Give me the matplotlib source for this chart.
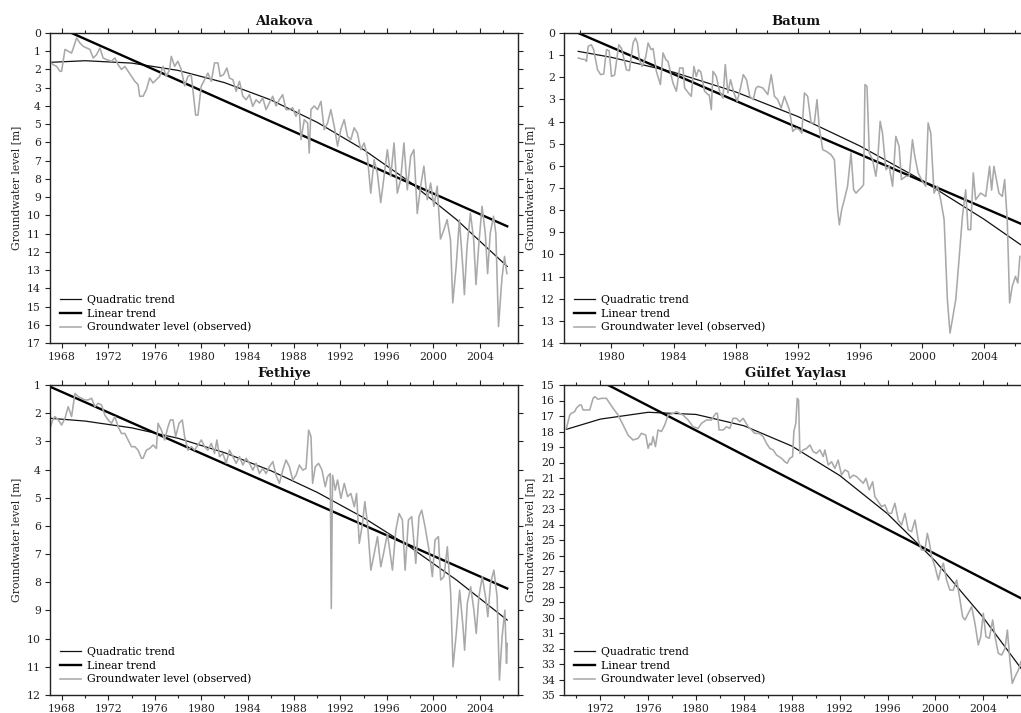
import matplotlib
matplotlib.use("Agg")
import matplotlib.pyplot as plt
from matplotlib.ticker import MultipleLocator

plt.rcParams['font.family'] = ['DejaVu Serif']
plt.rcParams['font.size'] = 7.5

# ---------------- Alakova ----------------
alakova_obs_year = [1966.97, 1967.25, 1967.54, 1967.83, 1967.97, 1968.26, 1968.54, 1968.83, 1969.03, 1969.26,
    1969.55, 1969.83, 1970.12, 1970.41, 1970.69, 1970.98, 1971.27, 1971.55, 1971.84, 1972.27,
    1972.56, 1972.84, 1973.13, 1973.42, 1973.70, 1973.99, 1974.28, 1974.56, 1974.70, 1974.99,
    1975.28, 1975.56, 1975.85, 1976.14, 1976.42, 1976.71, 1976.99, 1977.28, 1977.42, 1977.71,
    1977.99, 1978.28, 1978.57, 1978.86, 1979.14, 1979.52, 1979.72, 1980.00, 1980.29, 1980.58,
    1980.87, 1981.15, 1981.44, 1981.64, 1981.93, 1982.21, 1982.44, 1982.73, 1983.01, 1983.30,
    1983.59, 1983.87, 1984.16, 1984.44, 1984.73, 1985.02, 1985.30, 1985.59, 1985.87, 1986.16,
    1986.45, 1986.73, 1987.02, 1987.30, 1987.59, 1987.88, 1988.16, 1988.45, 1988.60, 1988.88,
    1989.17, 1989.31, 1989.46, 1989.74, 1990.03, 1990.32, 1990.60, 1990.89, 1991.17, 1991.46,
    1991.75, 1992.03, 1992.32, 1992.61, 1992.89, 1993.18, 1993.46, 1993.75, 1994.04, 1994.32,
    1994.61, 1994.90, 1995.18, 1995.47, 1995.76, 1996.04, 1996.33, 1996.62, 1996.90, 1997.19,
    1997.47, 1997.76, 1998.05, 1998.33, 1998.62, 1998.91, 1999.19, 1999.48, 1999.77, 2000.05,
    2000.34, 2000.62, 2000.91, 2001.19, 2001.48, 2001.68, 2001.97, 2002.25, 2002.54, 2002.68,
    2002.91, 2003.20, 2003.48, 2003.68, 2003.91, 2004.20, 2004.48, 2004.68, 2004.91, 2005.19,
    2005.39, 2005.62, 2005.91, 2006.14, 2006.34]
alakova_obs_level = [1.55, 1.74, 1.83, 2.10, 2.10, 0.90, 1.00, 1.10, 0.73, 0.27,
    0.55, 0.73, 0.82, 0.90, 1.37, 1.19, 0.82, 1.37, 1.46, 1.55,
    1.37, 1.74, 2.00, 1.83, 2.10, 2.38, 2.65, 2.83, 3.47, 3.47,
    3.10, 2.47, 2.74, 2.56, 2.38, 1.83, 2.38, 2.00, 1.28, 1.83,
    1.55, 2.00, 2.90, 2.38, 2.28, 4.50, 4.50, 2.92, 2.56, 2.20,
    2.65, 1.64, 1.64, 2.38, 2.28, 1.92, 2.47, 2.56, 3.20, 2.65,
    3.47, 3.66, 3.38, 4.02, 3.66, 3.84, 3.56, 4.20, 3.84, 3.47,
    4.00, 3.66, 3.38, 4.20, 4.20, 4.10, 4.57, 4.20, 5.85, 4.75,
    4.94, 6.58, 4.20, 4.00, 4.20, 3.75, 5.30, 4.94, 4.20, 5.10,
    6.20, 5.30, 4.75, 5.67, 5.85, 5.20, 5.48, 6.40, 6.03, 6.76,
    8.78, 6.95, 7.68, 9.30, 7.86, 6.40, 7.86, 6.03, 8.78, 8.04,
    6.03, 8.60, 6.76, 6.40, 9.90, 8.40, 7.30, 9.14, 8.23, 9.50,
    8.40, 11.30, 10.80, 10.24, 11.33, 14.80, 12.80, 10.24, 12.80, 14.35,
    11.70, 9.87, 11.33, 13.80, 11.70, 9.50, 10.97, 13.20, 10.97, 10.05,
    10.97, 16.10, 13.50, 12.25, 13.20]
alakova_lin_year = [1968.83, 2006.37]
alakova_lin_level = [0.0, 10.6]
alakova_quad_year = [1966.97, 1970, 1974, 1978, 1982, 1986, 1990, 1994, 1998, 2002, 2006.37]
alakova_quad_level = [1.61, 1.52, 1.65, 2.05, 2.72, 3.67, 4.90, 6.40, 8.18, 10.23, 12.8]

# ---------------- Batum ----------------
batum_obs_year = [1977.86, 1978.07, 1978.29, 1978.39, 1978.50, 1978.70, 1978.85, 1979.10, 1979.30, 1979.50,
    1979.68, 1979.85, 1980.00, 1980.20, 1980.47, 1980.65, 1980.96, 1981.15, 1981.39, 1981.54,
    1981.67, 1981.80, 1981.97, 1982.20, 1982.36, 1982.55, 1982.68, 1982.89, 1983.15, 1983.32,
    1983.50, 1983.64, 1983.96, 1984.18, 1984.39, 1984.61, 1984.71, 1984.95, 1985.14, 1985.31,
    1985.46, 1985.60, 1985.75, 1986.00, 1986.21, 1986.30, 1986.43, 1986.54, 1986.75, 1986.96,
    1987.18, 1987.33, 1987.50, 1987.67, 1987.89, 1988.10, 1988.31, 1988.49, 1988.70, 1988.91,
    1989.13, 1989.30, 1989.43, 1989.75, 1990.07, 1990.29, 1990.50, 1990.71, 1990.93, 1991.14,
    1991.46, 1991.68, 1991.90, 1992.11, 1992.26, 1992.43, 1992.64, 1992.86, 1993.07, 1993.24,
    1993.39, 1993.61, 1993.85, 1994.14, 1994.36, 1994.57, 1994.68, 1994.83, 1995.00, 1995.21,
    1995.43, 1995.60, 1995.75, 1996.07, 1996.24, 1996.33, 1996.46, 1996.61, 1996.82, 1997.03,
    1997.14, 1997.31, 1997.46, 1997.68, 1997.89, 1998.11, 1998.32, 1998.53, 1998.68, 1998.96,
    1999.18, 1999.39, 1999.54, 1999.76, 2000.03, 2000.25, 2000.40, 2000.57, 2000.78, 2001.00,
    2001.21, 2001.43, 2001.64, 2001.81, 2001.96, 2002.18, 2002.39, 2002.61, 2002.82, 2002.97,
    2003.14, 2003.31, 2003.46, 2003.78, 2004.11, 2004.36, 2004.49, 2004.64, 2004.96, 2005.18,
    2005.33, 2005.50, 2005.65, 2005.82, 2006.03, 2006.18, 2006.31]
batum_obs_level = [1.13, 1.17, 1.20, 1.28, 0.60, 0.53, 0.75, 1.66, 1.88, 1.85,
    0.75, 0.80, 1.96, 1.90, 0.53, 0.70, 1.66, 1.70, 0.45, 0.23,
    0.45, 1.20, 1.51, 1.10, 0.45, 0.75, 0.70, 1.73, 2.33, 0.90,
    1.20, 1.28, 2.26, 2.63, 1.58, 1.58, 2.48, 2.70, 2.86, 1.51,
    1.96, 1.66, 1.75, 2.63, 2.78, 2.80, 3.46, 1.73, 1.96, 2.63,
    2.94, 1.43, 2.71, 2.11, 2.71, 3.09, 2.48, 1.88, 2.11, 2.86,
    3.01, 2.50, 2.41, 2.48, 2.78, 1.88, 2.86, 3.01, 3.39, 2.86,
    3.46, 4.44, 4.30, 4.37, 4.52, 2.71, 2.86, 4.06, 4.06, 3.01,
    4.29, 5.27, 5.35, 5.49, 5.72, 7.98, 8.66, 7.98, 7.53, 6.92,
    5.42, 7.08, 7.23, 7.00, 6.85, 2.33, 2.41, 5.42, 5.72, 6.47,
    5.87, 3.99, 4.52, 6.17, 6.02, 6.92, 4.67, 5.12, 6.62, 6.47,
    6.47, 4.82, 5.57, 6.32, 6.70, 6.92, 4.06, 4.52, 7.23, 6.92,
    7.53, 8.43, 12.04, 13.55, 12.95, 12.04, 10.24, 8.28, 7.08, 8.88,
    8.88, 6.32, 7.53, 7.23, 7.38, 6.02, 7.10, 6.02, 7.23, 7.38,
    6.62, 8.50, 12.19, 11.44, 10.99, 11.29, 10.09]
batum_lin_year = [1977.86, 2006.36]
batum_lin_level = [0.0, 8.61]
batum_quad_year = [1977.86, 1980, 1984, 1988, 1992, 1996, 2000, 2004, 2006.36]
batum_quad_level = [0.83, 1.10, 1.77, 2.66, 3.77, 5.10, 6.65, 8.41, 9.56]

# ---------------- Fethiye ----------------
fethiye_obs_year = [1966.97, 1967.20, 1967.40, 1967.68, 1967.97, 1968.26, 1968.54, 1968.83, 1969.12, 1969.40,
    1969.69, 1969.98, 1970.26, 1970.55, 1970.84, 1971.12, 1971.41, 1971.70, 1971.98, 1972.27,
    1972.56, 1972.84, 1973.13, 1973.42, 1973.70, 1973.99, 1974.28, 1974.56, 1974.85, 1974.99,
    1975.28, 1975.56, 1975.85, 1976.14, 1976.28, 1976.57, 1976.85, 1977.14, 1977.34, 1977.57,
    1977.80, 1978.09, 1978.37, 1978.57, 1978.86, 1979.15, 1979.43, 1979.72, 1980.01, 1980.29,
    1980.58, 1980.87, 1981.15, 1981.35, 1981.58, 1981.87, 1982.15, 1982.44, 1982.73, 1983.01,
    1983.30, 1983.59, 1983.87, 1984.16, 1984.45, 1984.73, 1985.02, 1985.31, 1985.59, 1985.88,
    1986.17, 1986.45, 1986.74, 1987.03, 1987.31, 1987.60, 1987.89, 1988.17, 1988.46, 1988.75,
    1989.03, 1989.26, 1989.46, 1989.60, 1989.83, 1990.12, 1990.41, 1990.69, 1990.89, 1991.12,
    1991.21, 1991.32, 1991.55, 1991.75, 1992.04, 1992.33, 1992.61, 1992.90, 1993.19, 1993.39,
    1993.62, 1993.90, 1994.10, 1994.33, 1994.62, 1994.91, 1995.19, 1995.48, 1995.77, 1996.05,
    1996.48, 1996.77, 1997.05, 1997.34, 1997.57, 1997.86, 1998.14, 1998.49, 1998.77, 1999.00,
    1999.29, 1999.63, 1999.92, 2000.15, 2000.44, 2000.64, 2000.92, 2001.21, 2001.50, 2001.70,
    2001.98, 2002.27, 2002.56, 2002.70, 2002.93, 2003.22, 2003.50, 2003.70, 2003.93, 2004.22,
    2004.50, 2004.70, 2004.93, 2005.22, 2005.50, 2005.70, 2005.93, 2006.17, 2006.31, 2006.37]
fethiye_obs_level = [2.54, 2.24, 2.12, 2.24, 2.42, 2.18, 1.77, 2.12, 1.30, 1.41,
    1.47, 1.53, 1.53, 1.47, 1.77, 1.65, 1.71, 2.07, 2.24, 2.36,
    2.12, 2.48, 2.72, 2.72, 2.95, 3.19, 3.19, 3.31, 3.60, 3.60,
    3.31, 3.25, 3.13, 3.25, 2.36, 2.60, 2.95, 2.48, 2.24, 2.24,
    2.83, 2.36, 2.24, 2.83, 3.31, 3.19, 3.31, 3.13, 2.95, 3.19,
    3.31, 3.07, 3.43, 2.95, 3.54, 3.43, 3.78, 3.31, 3.54, 3.78,
    3.54, 3.84, 3.60, 3.78, 4.02, 3.78, 4.14, 3.96, 4.14, 3.90,
    3.72, 4.20, 4.49, 4.02, 3.66, 3.90, 4.37, 4.20, 3.84, 4.02,
    3.96, 2.60, 2.83, 4.49, 3.90, 3.78, 4.02, 4.61, 4.25, 4.14,
    8.93, 4.20, 4.73, 4.37, 5.02, 4.49, 4.96, 4.85, 5.32, 4.85,
    6.62, 5.91, 5.14, 5.91, 7.57, 6.98, 6.38, 7.45, 6.86, 6.27,
    7.57, 6.15, 5.56, 5.79, 7.57, 5.79, 5.67, 7.33, 5.67, 5.44,
    6.03, 6.86, 7.80, 6.50, 6.38, 7.92, 7.80, 6.74, 8.40, 11.00,
    9.82, 8.28, 9.58, 10.41, 8.75, 8.16, 8.99, 9.82, 8.51, 7.80,
    8.51, 9.22, 8.04, 7.57, 8.51, 11.47, 9.93, 8.99, 10.88, 10.17]
fethiye_lin_year = [1966.97, 2006.37]
fethiye_lin_level = [1.06, 8.22]
fethiye_quad_year = [1966.97, 1970, 1974, 1978, 1982, 1986, 1990, 1994, 1998, 2002, 2006.37]
fethiye_quad_level = [2.18, 2.28, 2.52, 2.89, 3.40, 4.04, 4.81, 5.71, 6.75, 7.92, 9.34]

# ---------------- Gülfet Yaylası ----------------
gulfet_obs_year = [1969.16, 1969.30, 1969.44, 1969.57, 1969.85, 1969.99, 1970.27, 1970.41, 1970.55, 1971.11,
    1971.39, 1971.53, 1971.80, 1972.08, 1972.50, 1972.78, 1973.06, 1973.48, 1973.90, 1974.31,
    1974.73, 1975.15, 1975.43, 1975.79, 1975.99, 1976.13, 1976.26, 1976.40, 1976.60, 1976.82,
    1977.10, 1977.38, 1977.66, 1978.08, 1978.36, 1978.91, 1979.33, 1979.75, 1980.17, 1980.45,
    1980.86, 1981.28, 1981.64, 1981.78, 1981.92, 1982.26, 1982.54, 1982.82, 1983.09, 1983.37,
    1983.65, 1983.93, 1984.35, 1984.63, 1984.91, 1985.27, 1985.60, 1985.88, 1986.16, 1986.44,
    1986.72, 1987.14, 1987.41, 1987.61, 1987.83, 1988.06, 1988.17, 1988.33, 1988.45, 1988.56,
    1988.67, 1988.95, 1989.23, 1989.51, 1989.78, 1990.06, 1990.34, 1990.62, 1990.76, 1991.04,
    1991.32, 1991.60, 1991.87, 1992.15, 1992.43, 1992.71, 1992.85, 1993.13, 1993.41, 1993.69,
    1993.97, 1994.19, 1994.47, 1994.75, 1994.94, 1995.22, 1995.50, 1995.78, 1996.06, 1996.33,
    1996.61, 1996.89, 1997.17, 1997.45, 1997.73, 1998.01, 1998.29, 1998.56, 1998.84, 1999.12,
    1999.32, 1999.48, 1999.68, 1999.96, 2000.24, 2000.43, 2000.66, 2000.93, 2001.21, 2001.49,
    2001.77, 2002.05, 2002.27, 2002.47, 2002.75, 2003.02, 2003.30, 2003.58, 2003.78, 2004.00,
    2004.22, 2004.50, 2004.78, 2004.98, 2005.25, 2005.53, 2005.81, 2006.01, 2006.23, 2006.42,
    2006.65, 2006.93, 2007.15]
gulfet_obs_level = [17.80, 17.37, 16.94, 16.83, 16.72, 16.50, 16.29, 16.29, 16.61, 16.61,
    15.86, 15.75, 15.92, 15.86, 15.86, 16.18, 16.50, 16.94, 17.58, 18.23,
    18.55, 18.44, 18.12, 18.23, 19.09, 18.76, 18.87, 18.33, 18.98, 17.90,
    18.00, 17.58, 16.94, 16.83, 16.72, 16.94, 17.26, 17.69, 17.80, 17.47,
    17.26, 17.26, 16.83, 16.83, 17.90, 17.90, 17.69, 17.80, 17.15, 17.15,
    17.37, 17.15, 17.69, 17.90, 18.12, 18.12, 18.33, 18.76, 19.09, 19.19,
    19.52, 19.73, 19.95, 20.05, 19.73, 19.62, 18.00, 17.47, 15.86, 15.97,
    19.41, 19.19, 19.09, 18.87, 19.30, 19.41, 19.19, 19.62, 19.19, 20.16,
    19.95, 20.38, 19.84, 20.81, 20.48, 20.59, 21.02, 20.81, 20.91, 21.13,
    21.34, 21.02, 21.77, 21.24, 22.20, 22.53, 22.85, 22.74, 23.28, 23.28,
    22.63, 23.71, 24.03, 23.28, 24.35, 24.46, 23.71, 25.00, 25.65, 25.65,
    24.57, 25.10, 26.08, 26.72, 27.58, 26.94, 26.50, 27.58, 28.23, 28.23,
    27.58, 28.87, 29.95, 30.16, 29.73, 29.30, 30.38, 31.77, 31.24, 29.73,
    31.24, 31.34, 30.16, 31.24, 32.31, 32.42, 31.99, 30.81, 32.85, 34.25,
    33.82, 33.39, 32.85]
gulfet_lin_year = [1972.64, 2007.15]
gulfet_lin_level = [15.0, 28.76]
gulfet_quad_year = [1969.16, 1972, 1976, 1980, 1984, 1988, 1992, 1996, 2000, 2004, 2007.15]
gulfet_quad_level = [17.86, 17.20, 16.76, 16.90, 17.63, 18.94, 20.84, 23.31, 26.37, 30.01, 33.28]

titles = ["Alakova", "Batum", "Fethiye", "Gülfet Yaylası"]
legend_labels = ["Quadratic trend", "Linear trend", "Groundwater level (observed)"]
ylabel = "Groundwater level [m]"

W, H = 1021, 713
fig = plt.figure(figsize=(W / 100, H / 100), dpi=100)


def px_axes(left, top, right, bottom):
    return fig.add_axes([left / W, 1 - bottom / H, (right - left) / W, (bottom - top) / H])


panels = [
    dict(box=(50, 33, 518, 343), xlim=(1966.97, 2007.3), ylim=(17, 0), xt=(1968, 2004),
         obs=(alakova_obs_year, alakova_obs_level), lin=(alakova_lin_year, alakova_lin_level),
         quad=(alakova_quad_year, alakova_quad_level)),
    dict(box=(564, 33, 1027, 343), xlim=(1976.94, 2006.77), ylim=(14, 0), xt=(1980, 2004),
         obs=(batum_obs_year, batum_obs_level), lin=(batum_lin_year, batum_lin_level),
         quad=(batum_quad_year, batum_quad_level)),
    dict(box=(50, 385, 518, 695), xlim=(1966.97, 2007.3), ylim=(12, 1), xt=(1968, 2004),
         obs=(fethiye_obs_year, fethiye_obs_level), lin=(fethiye_lin_year, fethiye_lin_level),
         quad=(fethiye_quad_year, fethiye_quad_level)),
    dict(box=(564, 385, 1027, 695), xlim=(1968.96, 2007.65), ylim=(35, 15), xt=(1972, 2004),
         obs=(gulfet_obs_year, gulfet_obs_level), lin=(gulfet_lin_year, gulfet_lin_level),
         quad=(gulfet_quad_year, gulfet_quad_level)),
]

for p, title in zip(panels, titles):
    ax = px_axes(*p["box"])
    lq, = ax.plot(*p["quad"], color="#111111", lw=0.9)
    ll, = ax.plot(*p["lin"], color="#000000", lw=1.7)
    lo, = ax.plot(*p["obs"], color="#a9a9a9", lw=1.15)
    ax.set_xlim(*p["xlim"])
    ax.set_ylim(*p["ylim"])
    ymin, ymax = p["ylim"][1], p["ylim"][0]
    ax.set_yticks(range(ymin, ymax + 1))
    ax.set_xticks(range(p["xt"][0], p["xt"][1] + 1, 4))
    ax.xaxis.set_minor_locator(MultipleLocator(2))
    ax.tick_params(which="both", direction="out", top=True, right=True,
                   length=3.5, width=0.8, colors="#222222", labelsize=7.8, pad=3)
    ax.tick_params(which="minor", length=2.5)
    for s in ax.spines.values():
        s.set_linewidth(1.0)
        s.set_color("#222222")
    ax.set_title(title, fontsize=9.5, fontweight="bold", pad=6, color="#111111")
    ax.set_ylabel(ylabel, fontsize=7.8, color="#222222", labelpad=4)
    ax.legend([lq, ll, lo], legend_labels, loc="lower left", frameon=False,
              fontsize=7.8, handlelength=1.9, handletextpad=0.6, labelspacing=0.33,
              borderaxespad=0.55, borderpad=0.4)

fig.savefig("out.png", dpi=100, facecolor="white")
